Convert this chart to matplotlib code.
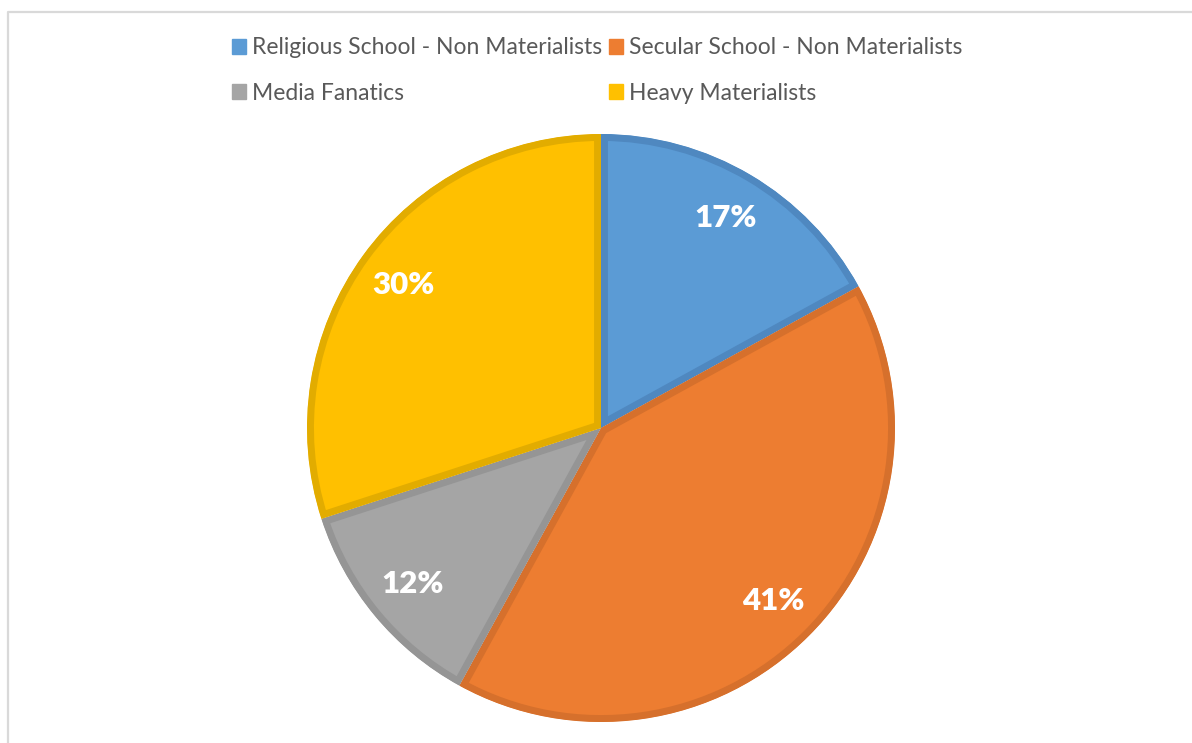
import matplotlib
matplotlib.use("Agg")
import matplotlib.pyplot as plt
from matplotlib.patches import Patch
from matplotlib.lines import Line2D

# Segment shares (percent)
categories = ["Religious School - Non Materialists",
              "Secular School - Non Materialists",
              "Media Fanatics",
              "Heavy Materialists"]
shares = [17, 41, 12, 30]

fill_colors = ["#5B9BD5", "#ED7D31", "#A5A5A5", "#FFC000"]
edge_colors = ["#4F88C0", "#D6702C", "#959595", "#E2AC00"]

plt.rcParams["font.family"] = ["Lato", "DejaVu Sans"]

W, H = 1192, 743
fig = plt.figure(figsize=(W / 100, H / 100), dpi=100)
fig.patch.set_facecolor("white")

# Pie axes: centre (601, 428) px from top-left, radius 294 px
cx, cy, r = 601, 428, 294
ax = fig.add_axes([(cx - r) / W, (H - cy - r) / H, 2 * r / W, 2 * r / H])
wedges, texts = ax.pie(
    shares,
    colors=fill_colors,
    startangle=90,
    counterclock=False,
    labels=[f"{v}%" for v in shares],
    labeldistance=0.83,
    wedgeprops=dict(linewidth=10.0),
    textprops=dict(color="white", fontsize=22.5, fontweight="heavy"),
)
# Outline each slice with an inner border: a wide stroke clipped to the slice
for w, ec in zip(wedges, edge_colors):
    w.set_edgecolor(ec)
    w.set_clip_on(True)
    w.set_clip_path(w)
for t in texts:
    t.set_ha("center")
    t.set_va("center")
ax.set_xlim(-1, 1)
ax.set_ylim(-1, 1)
ax.set_aspect("equal")
ax.axis("off")

# Chart frame (top and left edges visible)
fig.add_artist(Line2D([8 / W, 8 / W, 1.0], [0.0, 1 - 12 / H, 1 - 12 / H],
                      transform=fig.transFigure, color="#D9D9D9", linewidth=1.6))

# Legend, filled row by row
order = [0, 2, 1, 3]
handles = [Patch(facecolor=fill_colors[i], edgecolor=fill_colors[i]) for i in order]
labels = [categories[i] for i in order]
leg = fig.legend(handles, labels, ncol=2, loc="center",
                 bbox_to_anchor=(597 / W, 1 - 70.5 / H), frameon=False,
                 fontsize=16.5, handlelength=0.62, handleheight=0.62,
                 handletextpad=0.26, columnspacing=0.3, labelspacing=1.05,
                 borderpad=0)
for t in leg.get_texts():
    t.set_color("#595959")

fig.savefig("out.png", dpi=100)
